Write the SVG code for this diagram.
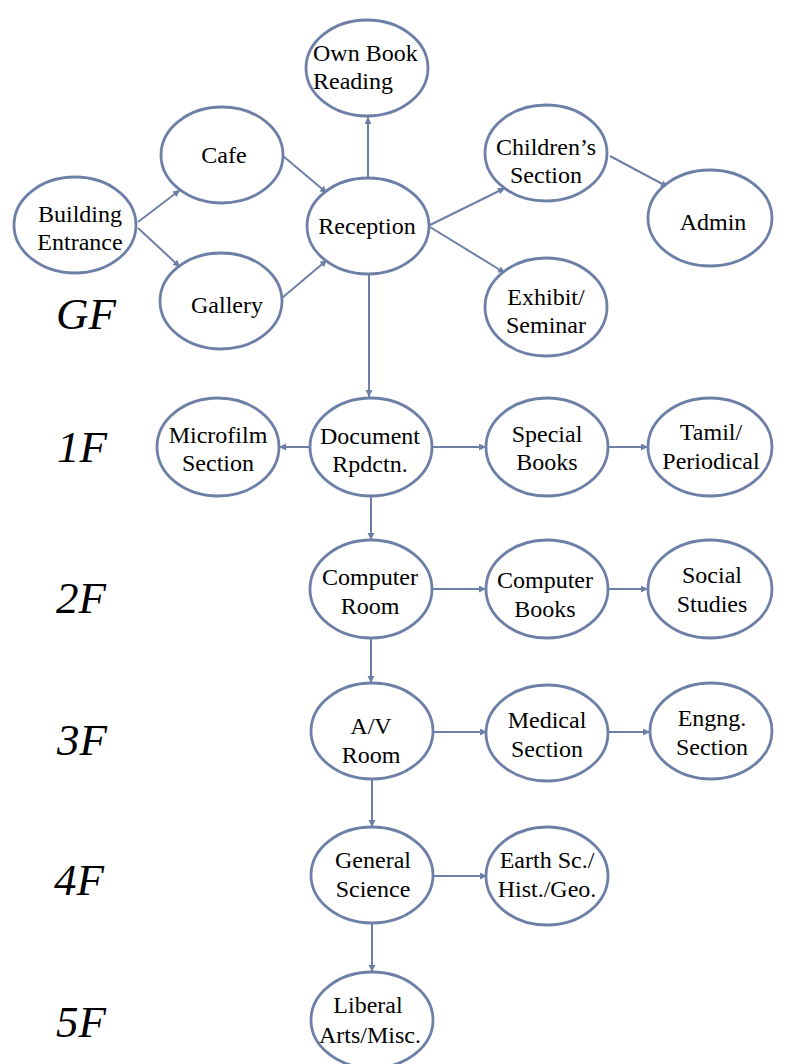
<svg xmlns="http://www.w3.org/2000/svg" width="796" height="1064" viewBox="0 0 796 1064">
<style>
.n ellipse{fill:#ffffff;stroke:#6e7fa7;stroke-width:2.8}
.n text{font-family:"Liberation Serif","Times New Roman",serif;font-size:24px;fill:#000;text-anchor:middle}
.c line{stroke:#6e7fa7;stroke-width:2;marker-end:url(#ah)}
.fl{font-family:"Liberation Serif","Times New Roman",serif;font-size:45px;font-style:italic;fill:#000}
</style>
<defs>
<marker id="ah" markerUnits="userSpaceOnUse" markerWidth="8" markerHeight="8" refX="7" refY="3.5" orient="auto">
<path d="M0,0 L7,3.5 L0,7 z" fill="#6e7fa7"/>
</marker>
</defs>
<rect width="796" height="1064" fill="#ffffff"/>
<g class="c" id="connectors">
<line x1="138" y1="222" x2="180" y2="190"/>
<line x1="138" y1="228" x2="180" y2="267"/>
<line x1="283" y1="156" x2="327" y2="193"/>
<line x1="282" y1="298" x2="327" y2="260"/>
<line x1="368" y1="177" x2="368" y2="117"/>
<line x1="430" y1="225" x2="505" y2="188"/>
<line x1="430" y1="227" x2="505" y2="273"/>
<line x1="610" y1="156" x2="668" y2="187"/>
<line x1="369" y1="275" x2="369" y2="397"/>
<line x1="310" y1="447" x2="279" y2="447"/>
<line x1="433" y1="447" x2="486" y2="447"/>
<line x1="607" y1="447" x2="648" y2="447"/>
<line x1="371" y1="497" x2="371" y2="540"/>
<line x1="433" y1="589" x2="486" y2="589"/>
<line x1="607" y1="589" x2="648" y2="589"/>
<line x1="371" y1="638" x2="371" y2="683"/>
<line x1="434" y1="732" x2="487" y2="732"/>
<line x1="608" y1="732" x2="650" y2="732"/>
<line x1="372" y1="780" x2="372" y2="827"/>
<line x1="434" y1="876" x2="487" y2="876"/>
<line x1="372" y1="923" x2="372" y2="972"/>
</g>
<g class="n" id="building-entrance"><ellipse cx="75" cy="225" rx="61" ry="48"/><text x="80" y="222">Building</text><text x="80" y="250">Entrance</text></g>
<g class="n" id="cafe"><ellipse cx="222" cy="155" rx="61" ry="48"/><text x="224" y="163">Cafe</text></g>
<g class="n" id="gallery"><ellipse cx="221" cy="301" rx="61" ry="48"/><text x="227" y="313">Gallery</text></g>
<g class="n" id="own-book"><ellipse cx="367" cy="68" rx="61" ry="48"/><text x="313" y="61" style="text-anchor:start">Own Book</text><text x="313" y="89" style="text-anchor:start">Reading</text></g>
<g class="n" id="reception"><ellipse cx="368" cy="226" rx="61" ry="48"/><text x="367" y="234">Reception</text></g>
<g class="n" id="childrens"><ellipse cx="546" cy="153" rx="61" ry="48"/><text x="546" y="155">Children’s</text><text x="546" y="183">Section</text></g>
<g class="n" id="exhibit"><ellipse cx="546" cy="307" rx="61" ry="49"/><text x="546" y="305">Exhibit/</text><text x="546" y="333">Seminar</text></g>
<g class="n" id="admin"><ellipse cx="710" cy="218" rx="62" ry="48"/><text x="713" y="230">Admin</text></g>
<g class="n" id="microfilm"><ellipse cx="218" cy="447" rx="61" ry="49"/><text x="218" y="443">Microfilm</text><text x="218" y="471">Section</text></g>
<g class="n" id="document"><ellipse cx="371" cy="447" rx="61" ry="49"/><text x="370" y="444">Document</text><text x="370" y="472">Rpdctn.</text></g>
<g class="n" id="special"><ellipse cx="547" cy="447" rx="61" ry="49"/><text x="547" y="442">Special</text><text x="547" y="470">Books</text></g>
<g class="n" id="tamil"><ellipse cx="710" cy="447" rx="62" ry="49"/><text x="711" y="440">Tamil/</text><text x="711" y="469">Periodical</text></g>
<g class="n" id="computer-room"><ellipse cx="371" cy="589" rx="61" ry="49"/><text x="370" y="585">Computer</text><text x="370" y="614">Room</text></g>
<g class="n" id="computer-books"><ellipse cx="547" cy="589" rx="61" ry="49"/><text x="545" y="588">Computer</text><text x="545" y="617">Books</text></g>
<g class="n" id="social"><ellipse cx="710" cy="589" rx="62" ry="49"/><text x="712" y="583">Social</text><text x="712" y="612">Studies</text></g>
<g class="n" id="av-room"><ellipse cx="372" cy="731" rx="61" ry="48"/><text x="371" y="734">A/V</text><text x="371" y="763">Room</text></g>
<g class="n" id="medical"><ellipse cx="547" cy="733" rx="61" ry="48"/><text x="547" y="728">Medical</text><text x="547" y="757">Section</text></g>
<g class="n" id="engng"><ellipse cx="711" cy="731" rx="61" ry="48"/><text x="712" y="726">Engng.</text><text x="712" y="755">Section</text></g>
<g class="n" id="general-science"><ellipse cx="372" cy="875" rx="61" ry="48"/><text x="373" y="868">General</text><text x="373" y="897">Science</text></g>
<g class="n" id="earth"><ellipse cx="547" cy="876" rx="61" ry="49"/><text x="547" y="868">Earth Sc./</text><text x="547" y="897">Hist./Geo.</text></g>
<g class="n" id="liberal"><ellipse cx="372" cy="1020" rx="61" ry="48"/><text x="368" y="1013">Liberal</text><text x="370" y="1043">Arts/Misc.</text></g>
<g id="floor-labels">
<text class="fl" x="56" y="329">GF</text>
<text class="fl" x="57" y="462">1F</text>
<text class="fl" x="56" y="613">2F</text>
<text class="fl" x="57" y="755">3F</text>
<text class="fl" x="54" y="895">4F</text>
<text class="fl" x="56" y="1037">5F</text>
</g>
</svg>
